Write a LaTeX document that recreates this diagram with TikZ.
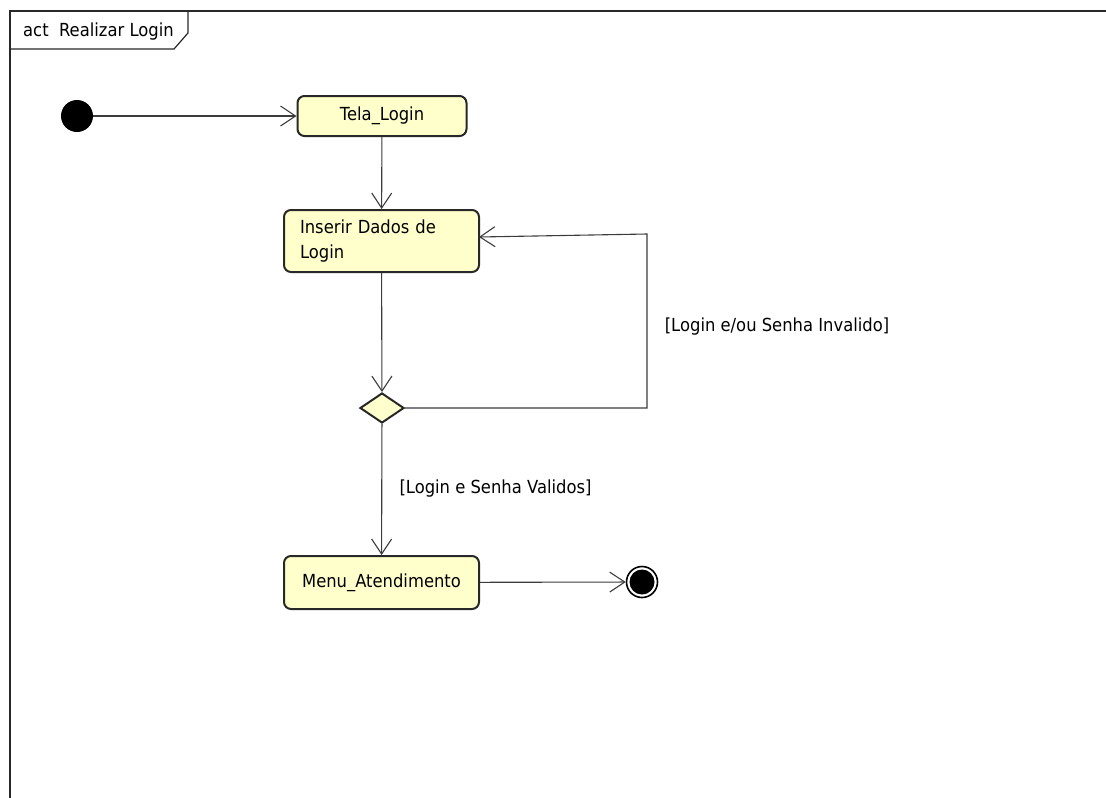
\documentclass[tikz,border=0pt]{standalone}
\usepackage{fontspec}
\setmainfont{DejaVu Sans}[FakeStretch=0.91]
\usetikzlibrary{arrows.meta,shapes.geometric}
\definecolor{actfill}{RGB}{255,255,204}
\definecolor{edge}{RGB}{40,40,40}
\definecolor{flow}{RGB}{60,60,60}
\begin{document}
\begin{tikzpicture}[x=1pt,y=-1pt,
  font=\fontsize{18}{25}\selectfont,
  action/.style={draw=edge,line width=2pt,fill=actfill,rounded corners=7pt,
    inner sep=0pt,align=center},
  decision/.style={draw=edge,line width=2pt,fill=actfill,diamond,inner sep=0pt,
    minimum width=44pt,minimum height=30pt},
  flowline/.style={draw=flow,line width=1.1pt,
    -{Straight Barb[length=15pt,width=20pt,line width=1.1pt]}},
  guard/.style={inner sep=0pt,text=black}]
\useasboundingbox (0,0) rectangle (1106,798);

% diagram frame with its name tab
\draw[edge,line width=2pt] (10,798) -- (10,11) -- (1110,11);
\draw[edge,line width=1.2pt] (10,49) -- (174,49) -- (188,33) -- (188,11);
\node[guard,anchor=west] (title) at (23,32) {act\ \ Realizar Login};

% initial and final nodes
\node[circle,fill=black,minimum size=32pt,inner sep=0pt] (start) at (77,116) {};
\node[circle,draw=black,line width=1.6pt,fill=white,minimum size=31pt,inner sep=0pt] (stop) at (642,582) {};
\node[circle,fill=black,minimum size=25pt,inner sep=0pt] (stopdot) at (642,582) {};

% actions
\node[action,minimum width=169pt,minimum height=40pt] (tela) at (382,116) {Tela\_Login};
\node[action,text width=163pt,inner xsep=16pt,minimum height=62pt,align=left] (ins) at (381.5,241) {Inserir Dados de\\Login};
\node[decision] (dec) at (382,408) {};
\node[action,minimum width=195pt,minimum height=53pt] (menu) at (381.5,582.5) {Menu\_Atendimento};

% control flows
\coordinate (loopA) at (647,408);
\coordinate (loopB) at (647,234);
\coordinate (loopIn) at (479,237);
\draw[flowline] (start) -- (tela.west |- start);
\draw[flowline] (tela) -- (ins);
\draw[flowline] (ins) -- (dec);
\draw[flowline] (dec.east) -- (loopA) -- (loopB) -- (loopIn);
\draw[flowline] (dec) -- (menu);
\draw[flowline] (menu) -- (stop);

% guards
\node[guard] (gInv) at (777,327) {[Login e/ou Senha Invalido]};
\node[guard] (gVal) at (495.5,489) {[Login e Senha Validos]};
\end{tikzpicture}
\end{document}
